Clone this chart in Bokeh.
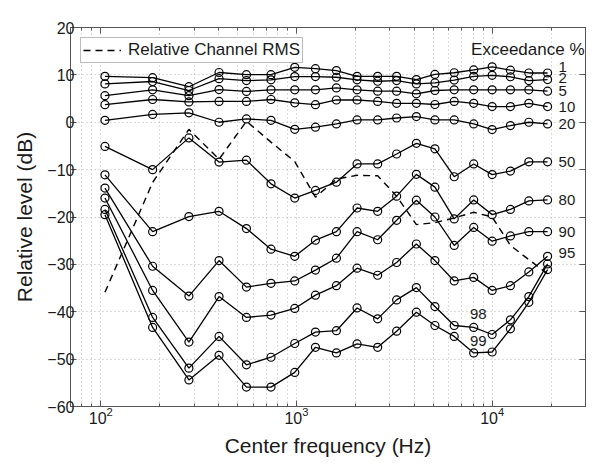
from bokeh.plotting import figure
from bokeh.models import (Range1d, FixedTicker, LogAxis, LinearAxis, Label,
                          CustomJSTickFormatter, LogTickFormatter)
from bokeh.embed import file_html
from bokeh.resources import INLINE

# ---------------- data ----------------
freqs = [105, 184, 282, 402, 555, 741, 980, 1250, 1600, 2040, 2600, 3250,
         4100, 5100, 6400, 8050, 10000, 12400, 15400, 19200]

p1 = [9.7, 9.4, 7.5, 10.5, 10.05, 10.05, 11.6, 11.3, 10.9, 9.7, 9.7, 9.7,
      9.0, 10.1, 10.45, 11.05, 11.7, 11.0, 10.4, 10.4]
p2 = [8.1, 8.6, 6.7, 9.2, 8.8, 8.95, 9.65, 9.65, 9.5, 8.95, 8.65, 8.8,
      8.1, 8.3, 8.9, 9.7, 9.9, 9.6, 8.8, 9.0]
p5 = [5.6, 6.85, 5.6, 6.9, 6.5, 6.85, 6.85, 6.85, 7.25, 6.85, 6.55, 6.55,
      6.0, 6.7, 6.85, 6.85, 6.85, 6.85, 6.85, 6.55]
p10 = [3.7, 4.8, 4.3, 4.4, 4.4, 4.8, 4.1, 3.7, 4.7, 4.7, 4.4, 4.0,
       4.0, 3.75, 4.4, 4.0, 3.3, 3.3, 4.0, 3.3]
p20 = [0.4, 1.65, 2.0, 0.0, 0.7, 0.4, -1.5, -1.05, -0.35, 0.5, 0.5, 0.9,
       1.2, 0.5, 0.5, -0.35, -1.55, -0.7, 0.0, -0.35]
p50 = [-5.1, -10.0, -3.3, -8.4, -8.0, -13.0, -16.0, -14.4, -12.65, -8.8,
       -8.8, -6.7, -4.45, -5.6, -11.5, -8.8, -11.05, -10.3, -8.35, -8.35]
p80 = [-11.1, -23.1, -19.9, -18.8, -22.45, -26.8, -28.3, -24.9, -23.1,
       -18.1, -18.8, -15.6, -11.0, -13.7, -20.4, -16.4, -19.5, -18.4,
       -16.6, -16.4]
p90 = [-13.9, -30.4, -36.7, -29.2, -34.8, -34.0, -33.5, -31.2, -28.7,
       -23.1, -24.8, -20.7, -16.45, -20.0, -26.0, -22.2, -25.1, -24.0,
       -23.1, -23.1]
p95 = [-16.0, -35.5, -46.4, -36.8, -41.2, -40.7, -39.3, -36.5, -34.5,
       -30.8, -32.3, -29.6, -25.7, -29.2, -33.5, -32.75, -35.5, -34.5,
       -31.6, -28.3]
p98 = [-18.4, -41.2, -51.9, -45.2, -51.2, -49.6, -46.7, -44.3, -44.0,
       -39.2, -41.5, -37.5, -34.9, -38.9, -42.9, -43.3, -44.8, -41.7,
       -36.8, -29.9]
p99 = [-19.5, -43.3, -54.4, -49.2, -55.9, -55.9, -52.8, -47.5, -48.7,
       -46.8, -47.5, -44.1, -40.1, -42.9, -45.2, -48.7, -48.5, -43.6,
       -38.0, -31.1]
rms = [-35.9, -12.7, -1.5, -7.8, 0.2, -4.2, -8.3, -15.8, -12.0, -11.2,
       -11.3, -15.6, -21.6, -21.2, -20.2, -19.0, -20.0, -26.0, -29.0, -32.0]

series_names = ["1", "2", "5", "10", "20", "50", "80", "90", "95", "98", "99"]
series_vals = [p1, p2, p5, p10, p20, p50, p80, p90, p95, p98, p99]

x_major = [100, 1000, 10000]
x_minor = [70, 80, 90, 200, 300, 400, 500, 600, 700, 800, 900,
           2000, 3000, 4000, 5000, 6000, 7000, 8000, 9000, 20000, 30000]
y_major = [-60, -50, -40, -30, -20, -10, 0, 10, 20]

FONT = "Liberation Sans"
AX = "#555555"
TXT = "#1a1a1a"

p = figure(width=600, height=472, x_axis_type="log",
           x_range=Range1d(70, 30000), y_range=Range1d(-60, 20),
           output_backend="svg", toolbar_location=None,
           min_border_left=70, min_border_right=15,
           min_border_top=27, min_border_bottom=66)
p.background_fill_color = "white"
p.border_fill_color = "white"
p.outline_line_color = AX
p.outline_line_width = 1

# grid (MATLAB-like dotted, x with minor grid)
p.xgrid.grid_line_color = "#b4b4b4"
p.xgrid.grid_line_dash = "1 3"
p.xgrid.minor_grid_line_color = "#b4b4b4"
p.xgrid.minor_grid_line_dash = "1 3"
p.ygrid.grid_line_color = "#b4b4b4"
p.ygrid.grid_line_dash = "1 3"


def style_axis(ax):
    ax.axis_line_color = AX
    ax.major_tick_line_color = AX
    ax.minor_tick_line_color = AX
    ax.major_tick_in = 6
    ax.major_tick_out = 0
    ax.minor_tick_in = 3
    ax.minor_tick_out = 0
    ax.major_label_text_font = FONT
    ax.major_label_text_font_size = "16px"
    ax.major_label_text_color = TXT
    ax.axis_label_text_font = FONT
    ax.axis_label_text_font_size = "21px"
    ax.axis_label_text_font_style = "normal"
    ax.axis_label_text_color = TXT


xa = p.xaxis[0]
ya = p.yaxis[0]
style_axis(xa)
style_axis(ya)
xa.ticker = FixedTicker(ticks=x_major, minor_ticks=x_minor)
xa.formatter = LogTickFormatter()
xa.axis_label = "Center frequency (Hz)"
xa.major_label_standoff = 0
xa.axis_label_standoff = 7
ya.ticker = FixedTicker(ticks=y_major, minor_ticks=[])
ya.major_label_overrides = {t: str(t).replace("-", "\u2212") for t in y_major}
ya.axis_label = "Relative level (dB)"
ya.major_label_standoff = -4
ya.axis_label_standoff = 8

top = LogAxis(ticker=FixedTicker(ticks=x_major, minor_ticks=x_minor),
              formatter=CustomJSTickFormatter(code="return ''"),
              major_label_standoff=0)
right = LinearAxis(ticker=FixedTicker(ticks=y_major, minor_ticks=[]),
                   formatter=CustomJSTickFormatter(code="return ''"),
                   major_label_standoff=0)
style_axis(top)
style_axis(right)
p.add_layout(top, "above")
p.add_layout(right, "right")

# dashed RMS curve
p.line(freqs, rms, line_color="black", line_width=1.4, line_dash="7 5",
       legend_label="Relative Channel RMS")

for vals in series_vals:
    p.line(freqs, vals, line_color="black", line_width=1.3)
    p.scatter(freqs, vals, marker="circle", size=8, fill_color=None,
              line_color="black", line_width=1.2)

# end-of-curve labels
end_offsets = {"1": 6, "2": 2, "95": 3}
for name, vals in zip(series_names, series_vals):
    if name in ("98", "99"):
        continue
    p.add_layout(Label(x=freqs[-1], y=vals[-1], text=name, x_offset=11,
                       y_offset=end_offsets.get(name, 0),
                       text_align="left", text_baseline="middle",
                       text_font=FONT, text_font_size="15px",
                       text_color=TXT))

p.add_layout(Label(x=8500, y=-40.4, text="98", text_align="center",
                   text_baseline="middle", text_font=FONT,
                   text_font_size="15px", text_color=TXT))
p.add_layout(Label(x=8500, y=-46.2, text="99", text_align="center",
                   text_baseline="middle", text_font=FONT,
                   text_font_size="15px", text_color=TXT))
p.add_layout(Label(x=30000, y=15.4, text="Exceedance %", x_offset=-1,
                   text_align="right", text_baseline="middle",
                   text_font=FONT, text_font_size="17px", text_color=TXT))

lg = p.legend[0]
lg.location = "top_left"
lg.margin = 10
lg.padding = 2
lg.spacing = 0
lg.glyph_width = 38
lg.glyph_height = 14
lg.label_height = 14
lg.label_standoff = 7
lg.label_text_font = FONT
lg.label_text_font_size = "17px"
lg.label_text_color = TXT
lg.label_text_line_height = 0.9
lg.border_line_color = "#777777"
lg.border_line_width = 1
lg.background_fill_color = "white"
lg.background_fill_alpha = 1.0

open("out.html", "w").write(file_html(p, INLINE))
